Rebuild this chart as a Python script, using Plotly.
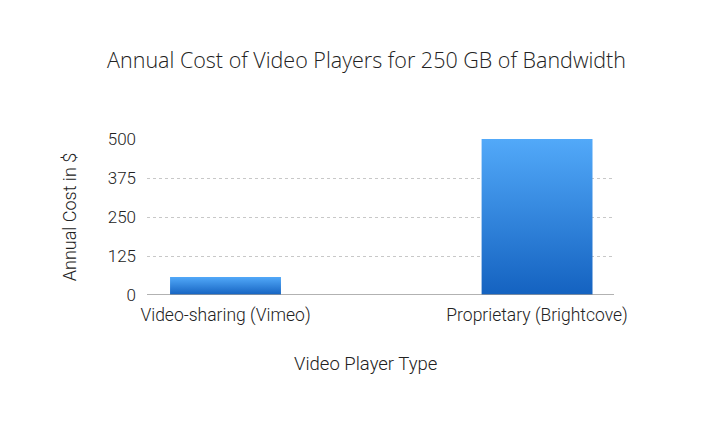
import plotly.graph_objects as go

# chart data
players = ["Video-sharing (Vimeo)", "Proprietary (Brightcove)"]
annual_cost = [58, 500]
y_ticks = [0, 125, 250, 375, 500]

BAR_WIDTH = 0.356
FONT = "Helvetica Neue, Roboto, Liberation Sans, sans-serif"
TITLE_FONT = "Open Sans, Helvetica Neue, sans-serif"

fig = go.Figure()

# bars drawn as filled shapes so they can carry the vertical gradient
for i, (name, cost) in enumerate(zip(players, annual_cost)):
    x0, x1 = i - BAR_WIDTH / 2, i + BAR_WIDTH / 2
    fig.add_trace(go.Scatter(
        x=[x0, x1, x1, x0, x0],
        y=[0, 0, cost, cost, 0],
        mode="lines",
        line=dict(width=0),
        fill="toself",
        fillgradient=dict(
            type="vertical",
            colorscale=[[0, "#1462c0"], [1, "#52a9f9"]],
        ),
        name=name,
        hovertemplate=f"{name}: %{{y}}<extra></extra>",
        showlegend=False,
    ))

# page body has an 8px margin, so the figure is sized/offset to compensate
fig.update_layout(
    width=703,
    height=416,
    paper_bgcolor="white",
    plot_bgcolor="white",
    margin=dict(l=139, r=97, t=131, b=129),
    font=dict(family=FONT, color="#222222", weight=300),
    title=dict(
        text="Annual Cost of Video Players for 250 GB of Bandwidth",
        x=0.51, xanchor="center",
        y=0.875, yanchor="middle",
        font=dict(size=21.5, family=TITLE_FONT, color="#222222", weight=300),
    ),
    xaxis=dict(
        range=[-0.252, 1.247],
        tickvals=[0, 1],
        ticktext=players,
        tickfont=dict(size=17.5),
        showgrid=False,
        zeroline=False,
        showline=False,
        ticks="",
        ticklabelstandoff=7,
        fixedrange=True,
    ),
    yaxis=dict(
        range=[0, 500],
        tickvals=y_ticks,
        tickfont=dict(size=17),
        showgrid=True,
        gridcolor="#c8c8c8",
        griddash="dot",
        gridwidth=1,
        zeroline=False,
        showline=False,
        ticks="",
        ticklabelstandoff=10,
        title=dict(text="Annual Cost in $", font=dict(size=18), standoff=26),
    ),
    # x title sits a little left of the plot centre in the original
    annotations=[dict(
        text="Video Player Type",
        xref="paper", yref="paper",
        x=0.467, y=-0.442,
        xanchor="center", yanchor="middle",
        showarrow=False,
        font=dict(size=18.5),
    )],
    shapes=[dict(
        type="line", xref="paper", yref="y",
        x0=0, x1=1, y0=0, y1=0,
        line=dict(color="#999999", width=1.5),
        layer="above",
    )],
)

fig.write_html("out.html")
